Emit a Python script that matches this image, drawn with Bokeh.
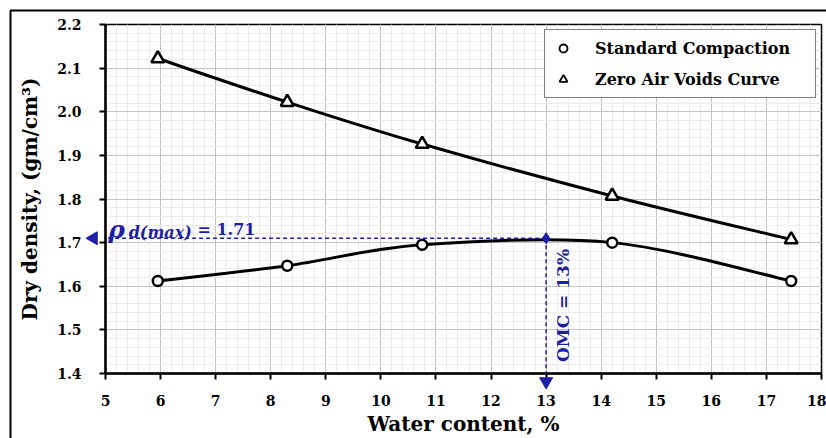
import numpy as np
from bokeh.plotting import figure
from bokeh.models import (Range1d, FixedTicker, PrintfTickFormatter, Legend, LegendItem,
                          Label, Arrow, ColumnDataSource)
from bokeh.embed import file_html
from bokeh.resources import INLINE

# ---- data ----
water_std = [5.95, 8.30, 10.75, 14.20, 17.45]
dens_std = [1.612, 1.647, 1.695, 1.700, 1.612]
water_zav = [5.95, 8.30, 10.75, 14.20, 17.45]
dens_zav = [2.122, 2.022, 1.926, 1.807, 1.707]
omc = 13.0
rho_max = 1.71
x_ticks = [5, 6, 7, 8, 9, 10, 11, 12, 13, 14, 15, 16, 17, 18]
y_ticks = [1.4, 1.5, 1.6, 1.7, 1.8, 1.9, 2.0, 2.1, 2.2]

BLUE = "#1f1fa6"
FONT = "DejaVu Serif"

W, H = 826, 438
BL, BR, BT, BB = 105, 5, 24, 65

p = figure(width=W, height=H, output_backend="svg", toolbar_location=None,
           x_range=Range1d(5, 18), y_range=Range1d(1.4, 2.2),
           min_border_left=BL, min_border_right=BR, min_border_top=BT, min_border_bottom=BB)
p.background_fill_color = "white"
p.border_fill_color = "white"
p.outline_line_color = "black"
p.outline_line_width = 1.5

minor_x = [round(v, 2) for v in np.arange(5, 18.001, 0.2)]
minor_y = [round(v, 3) for v in np.arange(1.4, 2.2001, 0.02)]
p.xaxis.ticker = FixedTicker(ticks=x_ticks, minor_ticks=minor_x)
p.yaxis.ticker = FixedTicker(ticks=y_ticks, minor_ticks=minor_y)
p.yaxis.formatter = PrintfTickFormatter(format="%.1f")

for ax in (p.xaxis, p.yaxis):
    ax.axis_line_color = "black"
    ax.axis_line_width = 2.5
    ax.major_tick_line_color = "black"
    ax.major_tick_line_width = 2
    ax.major_tick_out = 6
    ax.major_tick_in = 0
    ax.minor_tick_out = 0
    ax.minor_tick_in = 0
    ax.major_label_text_font = FONT
    ax.major_label_text_font_style = "bold"
    ax.major_label_text_font_size = "14px"
    ax.major_label_text_color = "black"
    ax.axis_label_text_font = FONT
    ax.axis_label_text_font_style = "bold"
    ax.axis_label_text_color = "black"

p.xaxis.axis_label = "Water content, %"
p.yaxis.axis_label = "Dry density, (gm/cm³)"
p.xaxis.axis_label_text_font_size = "20px"
p.yaxis.axis_label_text_font_size = "20px"
p.xaxis.major_label_standoff = 15
p.yaxis.major_label_standoff = 18
p.xaxis.axis_label_standoff = 3
p.yaxis.axis_label_standoff = 12

p.grid.grid_line_color = "#c4c4c4"
p.grid.grid_line_width = 1
p.grid.minor_grid_line_color = "#ebebeb"
p.grid.minor_grid_line_width = 1


def smooth(xs, ys):
    x = np.asarray(xs, float)
    y = np.asarray(ys, float)
    n = len(x)
    xp = np.concatenate([[x[0]], x, [x[-1]]])
    yp = np.concatenate([[y[0]], y, [y[-1]]])
    segs = dict(x0=[], y0=[], x1=[], y1=[], cx0=[], cy0=[], cx1=[], cy1=[])
    for i in range(n - 1):
        a, b = i + 1, i + 2
        segs["x0"].append(xp[a]); segs["y0"].append(yp[a])
        segs["x1"].append(xp[b]); segs["y1"].append(yp[b])
        segs["cx0"].append(xp[a] + (xp[b] - xp[a - 1]) / 6)
        segs["cy0"].append(yp[a] + (yp[b] - yp[a - 1]) / 6)
        segs["cx1"].append(xp[b] - (xp[b + 1] - xp[a]) / 6)
        segs["cy1"].append(yp[b] - (yp[b + 1] - yp[a]) / 6)
    return ColumnDataSource(segs)


p.bezier("x0", "y0", "x1", "y1", "cx0", "cy0", "cx1", "cy1",
         source=smooth(water_std, dens_std), line_color="black", line_width=3)
p.bezier("x0", "y0", "x1", "y1", "cx0", "cy0", "cx1", "cy1",
         source=smooth(water_zav, dens_zav), line_color="black", line_width=3)

p.scatter(water_std, dens_std, marker="circle", size=10, fill_color="white",
          line_color="black", line_width=2.5)
p.scatter(water_zav, dens_zav, marker="triangle", size=13, fill_color="white",
          line_color="black", line_width=2.5)

# pixel <-> data helpers (for positioning only)
px_x = (W - BL - BR) / (18 - 5)
px_y = (H - BT - BB) / (2.2 - 1.4)

# OMC construction: dashed leader lines
x_tip = 5 - 17 / px_x      # arrow tip 17 px left of the y axis
y_tip = 1.4 - 13 / px_y    # arrow tip 13 px below the x axis
p.add_layout(Arrow(x_start=omc, y_start=rho_max, x_end=x_tip + 6 / px_x, y_end=rho_max,
                   line_color=BLUE, line_width=1.5, line_dash="4 3", level="overlay",
                   end=None))
p.add_layout(Arrow(x_start=omc, y_start=rho_max, x_end=omc, y_end=y_tip + 6 / px_y,
                   line_color=BLUE, line_width=1.5, line_dash="4 3", level="overlay",
                   end=None))
# arrowheads as overlay-level markers
p.scatter([x_tip + 5 / px_x], [rho_max], marker="triangle", angle=np.pi / 2, size=13,
          fill_color=BLUE, line_color=BLUE, level="overlay")
p.scatter([omc], [y_tip + 5 / px_y], marker="inverted_triangle", size=13,
          fill_color=BLUE, line_color=BLUE, level="overlay")
p.scatter([omc], [rho_max], marker="diamond", size=11, fill_color=BLUE, line_color=BLUE)

p.add_layout(Label(x=5.05, y=1.7303, text="ρ", text_font=FONT,
                   text_font_style="bold italic", text_font_size="25px", text_color=BLUE,
                   text_baseline="alphabetic"))
p.add_layout(Label(x=5.42, y=1.7234, text="d(max)", text_font=FONT,
                   text_font_style="bold italic", text_font_size="16px", text_color=BLUE,
                   text_baseline="alphabetic"))
p.add_layout(Label(x=6.67, y=1.7303, text="= 1.71", text_font=FONT,
                   text_font_style="bold", text_font_size="16px", text_color=BLUE,
                   text_baseline="alphabetic"))
p.add_layout(Label(x=13.315, y=1.556, text="OMC = 13%", text_font=FONT,
                   text_font_style="bold", text_font_size="17px", text_color=BLUE,
                   angle=np.pi / 2, text_align="center", text_baseline="middle"))

# legend (dummy renderers outside the range)
r_c = p.scatter([-10], [0], marker="circle", size=8, fill_color="white",
                line_color="black", line_width=1.8)
r_t = p.scatter([-10], [0], marker="triangle", size=8, fill_color="white",
                line_color="black", line_width=1.8)
legend = Legend(items=[LegendItem(label="Standard Compaction", renderers=[r_c]),
                       LegendItem(label="Zero Air Voids Curve", renderers=[r_t])],
                location="top_right", margin=5, padding=8, spacing=11,
                glyph_width=20, glyph_height=20, label_height=20, label_width=212,
                label_standoff=22, border_line_color="black", border_line_width=1.5,
                background_fill_color="white", background_fill_alpha=1,
                label_text_font=FONT, label_text_font_style="bold",
                label_text_font_size="16px", label_text_color="black")
p.add_layout(legend)

# outer figure border: left and top edges at 10 px from the canvas corner
bx = 5 - (BL - 10) / px_x
by = 2.2 + (BT - 10) / px_y
p.line([bx, bx, 40], [0.5, by, by], line_color="black", line_width=2, level="overlay")

open("out.html", "w").write(file_html(p, INLINE))
